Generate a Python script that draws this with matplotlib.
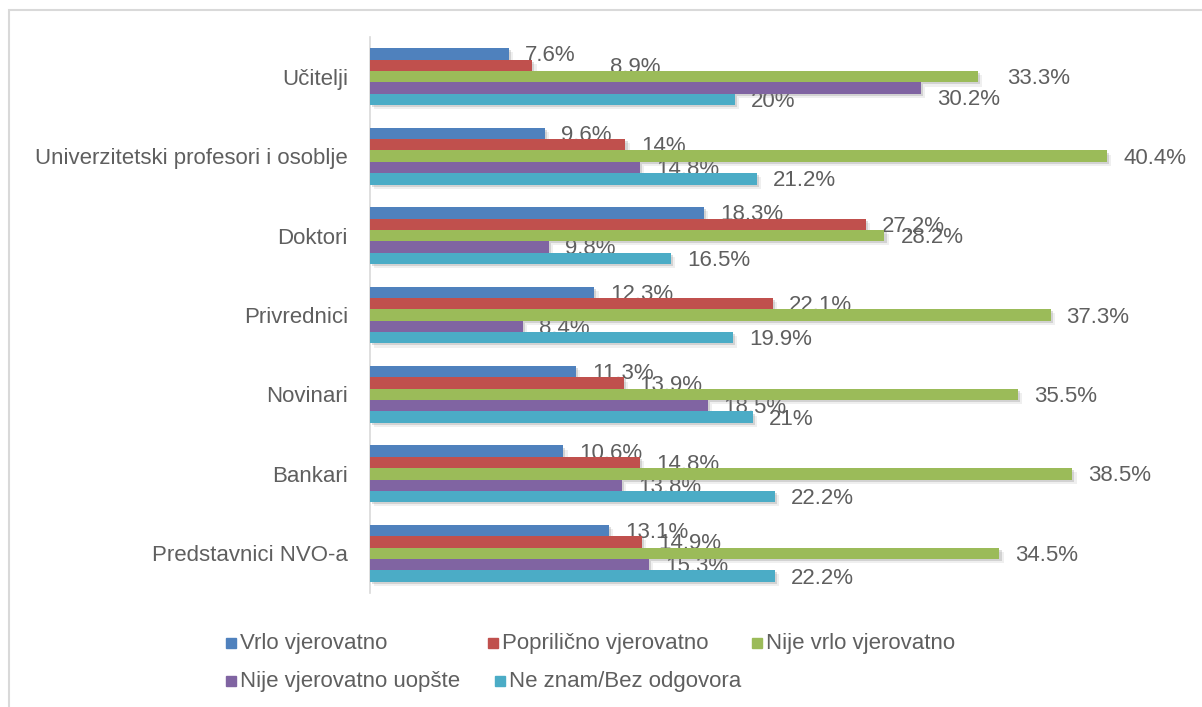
import matplotlib
matplotlib.use("Agg")
import matplotlib.pyplot as plt
import matplotlib.patheffects as pe
from matplotlib.patches import Rectangle
import numpy as np

plt.rcParams['font.family'] = ['Liberation Sans', 'DejaVu Sans']

categories = ["Učitelji", "Univerzitetski profesori i osoblje", "Doktori",
              "Privrednici", "Novinari", "Bankari", "Predstavnici NVO-a"]
series_names = ["Vrlo vjerovatno", "Poprilično vjerovatno", "Nije vrlo vjerovatno",
                "Nije vjerovatno uopšte", "Ne znam/Bez odgovora"]
vrlo = [7.6, 9.6, 18.3, 12.3, 11.3, 10.6, 13.1]
poprilicno = [8.9, 14, 27.2, 22.1, 13.9, 14.8, 14.9]
nije_vrlo = [33.3, 40.4, 28.2, 37.3, 35.5, 38.5, 34.5]
nije_uopste = [30.2, 14.8, 9.8, 8.4, 18.5, 13.8, 15.3]
ne_znam = [20, 21.2, 16.5, 19.9, 21, 22.2, 22.2]
series = [vrlo, poprilicno, nije_vrlo, nije_uopste, ne_znam]
colors = ["#4F81BD", "#C0504D", "#9BBB59", "#8064A2", "#4BACC6"]

W, H = 1202, 707
fig = plt.figure(figsize=(W / 100, H / 100), dpi=100)
ax = fig.add_axes([370 / W, 1 - 593 / H, (1191 - 370) / W, (593 - 37) / H])

text_color = "#5f5f5f"
fs = 16
n = len(series)
bh = 0.143
y = np.arange(len(categories))
shadow = [pe.SimplePatchShadow(offset=(1.5, -1.5), shadow_rgbFace="#7f7f7f", alpha=0.25),
          pe.SimplePatchShadow(offset=(3, -3), shadow_rgbFace="#7f7f7f", alpha=0.12),
          pe.Normal()]
# label placement offsets in pixels (special cases for displaced labels)
extra_dx = {(1, 0): 62, (2, 0): 14}
extra_dy = {(3, 0): -9}
for i, (vals, c) in enumerate(zip(series, colors)):
    ypos = y - (n - 1) / 2 * bh + i * bh
    bars = ax.barh(ypos, vals, height=bh, color=c, zorder=3, label=series_names[i])
    for b in bars:
        b.set_path_effects(shadow)
    for j, (v, yy) in enumerate(zip(vals, ypos)):
        dx = 16 + extra_dx.get((i, j), 0)
        dy = -2 + extra_dy.get((i, j), 0)
        ax.annotate(f"{v:g}%", xy=(v, yy), xytext=(dx, dy),
                    textcoords="offset pixels", ha="left", va="center",
                    fontsize=fs, color=text_color, zorder=1)

ax.set_xlim(0, 45)
ax.set_ylim(len(categories) - 0.5, -0.5)
ax.set_yticks(y)
ax.set_yticklabels(categories, fontsize=fs, color=text_color)
ax.tick_params(axis='y', length=0, pad=16)
ax.set_xticks([])
for s in ["top", "right", "bottom"]:
    ax.spines[s].set_visible(False)
ax.spines["left"].set_color("#D9D9D9")
ax.spines["left"].set_linewidth(1.2)

# outer chart border
fig.patches.append(Rectangle((9 / W, -0.05), 1.2, 1 - 10 / H + 0.05, transform=fig.transFigure,
                             fill=False, edgecolor="#D9D9D9", linewidth=1.5))

# legend
legend_pos = [(231, 643), (493, 643), (757, 643), (231, 681), (500, 681)]
sq = 10
for (lx, ly), name, c in zip(legend_pos, series_names, colors):
    fig.patches.append(Rectangle(((lx - sq / 2) / W, 1 - (ly + sq / 2) / H), sq / W, sq / H,
                                 transform=fig.transFigure, color=c))
    fig.text((lx + 9) / W, 1 - ly / H, name, fontsize=fs, color=text_color,
             ha="left", va="center")

fig.savefig("out.png", dpi=100, facecolor="white")
